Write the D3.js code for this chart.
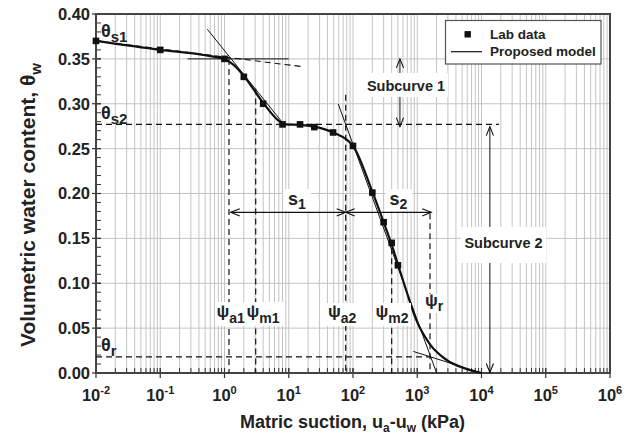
<!DOCTYPE html>
<html><head><meta charset="utf-8">
<script src="https://cdn.jsdelivr.net/npm/d3@7"></script>
<style>
body{margin:0;background:#fff}
text{font-family:"Liberation Sans",Arial,sans-serif;font-weight:bold;fill:#222}
</style>
</head><body>
<svg id="c" width="633" height="436"></svg>
<script>
// ---- data ----
const labSuction = [0.01, 0.1, 1, 2, 4, 8, 15, 25, 49, 100, 200, 300, 400, 500];
const labTheta   = [0.370, 0.360, 0.350, 0.330, 0.300, 0.277, 0.277, 0.274, 0.268, 0.253, 0.201, 0.168, 0.145, 0.120];

const modelSuction = [0.01, 0.1, 0.5, 1.0, 1.4, 2, 4, 7, 9, 15, 25, 49, 100, 200, 300, 400, 500, 670, 980, 1580, 2870, 5530, 10000];
const modelTheta   = [0.370, 0.360, 0.354, 0.3495, 0.343, 0.331, 0.301, 0.281, 0.277, 0.2765, 0.2745, 0.268, 0.253, 0.202, 0.168, 0.143, 0.121, 0.0925, 0.058, 0.032, 0.0145, 0.005, 0.0];

const yTickValues = [0, 0.05, 0.10, 0.15, 0.20, 0.25, 0.30, 0.35, 0.40];
const xTickExponents = [-2, -1, 0, 1, 2, 3, 4, 5, 6];

// characteristic values
const thetaS1 = 0.370, thetaS2 = 0.277, thetaR = 0.018;
const psiA1 = 1.175, psiM1 = 3.06, psiA2 = 77, psiM2 = 400, psiR = 1580;

// construction lines [suction, theta] pairs
const tangentFlat1 = [[0.01, 0.370], [17.5, 0.341]];      // dashed
const tangentH1    = [[0.267, 0.350], [10, 0.350]];        // thin
const tangentSteep1= [[0.54, 0.383], [8.2, 0.278]];        // thin
const tangentSteep2= [[59, 0.2997], [2000, 0.0]];          // thin
const tangentRes   = [[870, 0.024], [10000, 0.0]];         // thin

// ---- layout ----
const svg = d3.select("#c");
const x = d3.scaleLog().domain([1e-2, 1e6]).range([96, 610]);
const y = d3.scaleLinear().domain([0, 0.4]).range([373, 14]);
const X0 = x.range()[0], X1 = x.range()[1], Y0 = y.range()[0], Y1 = y.range()[1];

// grid
const grid = svg.append("g").attr("stroke", "#c4c4c4").attr("stroke-width", 1);
const xGridVals = [];
for (let e = -2; e < 6; e++) for (let k = 1; k <= 9; k++) xGridVals.push(k * Math.pow(10, e));
xGridVals.push(1e6);
grid.selectAll("line.v").data(xGridVals).join("line")
  .attr("x1", d => x(d)).attr("x2", d => x(d)).attr("y1", Y1).attr("y2", Y0);
grid.selectAll("line.h").data(yTickValues).join("line")
  .attr("x1", X0).attr("x2", X1).attr("y1", d => y(d)).attr("y2", d => y(d));

// axes ticks
const minorY = d3.range(0, 0.401, 0.01);
svg.append("g").attr("stroke", "#333").attr("stroke-width", 1)
  .selectAll("line").data(minorY).join("line")
  .attr("x1", X0).attr("x2", X0 + 5).attr("y1", d => y(d)).attr("y2", d => y(d));
svg.append("g").attr("stroke", "#333").attr("stroke-width", 1.2)
  .selectAll("line").data(yTickValues).join("line")
  .attr("x1", X0 - 4).attr("x2", X0 + 5).attr("y1", d => y(d)).attr("y2", d => y(d));
svg.append("g").attr("stroke", "#333").attr("stroke-width", 1)
  .selectAll("line").data(xGridVals).join("line")
  .attr("x1", d => x(d)).attr("x2", d => x(d)).attr("y1", Y0 - 5).attr("y2", Y0);
svg.append("g").attr("stroke", "#333").attr("stroke-width", 1.2)
  .selectAll("line").data(xTickExponents).join("line")
  .attr("x1", d => x(Math.pow(10, d))).attr("x2", d => x(Math.pow(10, d))).attr("y1", Y0 - 5).attr("y2", Y0 + 5);

// frame
svg.append("rect").attr("x", X0).attr("y", Y1).attr("width", X1 - X0).attr("height", Y0 - Y1)
  .attr("fill", "none").attr("stroke", "#444").attr("stroke-width", 2);

// tick labels
svg.append("g").selectAll("text").data(yTickValues).join("text")
  .attr("x", X0 - 6).attr("y", d => y(d)).attr("dy", "0.36em").attr("text-anchor", "end")
  .attr("font-size", 16.5).text(d => d.toFixed(2));
const xl = svg.append("g").selectAll("text").data(xTickExponents).join("text")
  .attr("x", d => x(Math.pow(10, d))).attr("y", 401).attr("text-anchor", "middle").attr("font-size", 16.5);
xl.append("tspan").text("10");
xl.append("tspan").attr("font-size", 11).attr("dy", -7.5).text(d => d);

// axis titles
const xt = svg.append("text").attr("x", 352.5).attr("y", 427.5).attr("text-anchor", "middle").attr("font-size", 18);
xt.append("tspan").text("Matric suction, u");
xt.append("tspan").attr("font-size", 12).attr("dy", 4).text("a");
xt.append("tspan").attr("dy", -4).text("-u");
xt.append("tspan").attr("font-size", 12).attr("dy", 4).text("w");
xt.append("tspan").attr("dy", -4).text(" (kPa)");

const yt = svg.append("text").attr("transform", "translate(35,205) rotate(-90)").attr("text-anchor", "middle").attr("font-size", 21);
yt.append("tspan").text("Volumetric water content, θ");
yt.append("tspan").attr("font-size", 15).attr("dy", 6).text("w");

// helpers
const lineGen = d3.line().x(d => x(d[0])).y(d => y(d[1]));
function seg(pts, opts) {
  svg.append("path").attr("d", lineGen(pts)).attr("fill", "none")
    .attr("stroke", opts.color || "#111").attr("stroke-width", opts.w || 1)
    .attr("stroke-dasharray", opts.dash || null);
}
function head(px, py, dir) {
  const L = 9, Hh = 3.6;
  let p;
  if (dir === "left")  p = [[px + L, py - Hh], [px, py], [px + L, py + Hh]];
  if (dir === "right") p = [[px - L, py - Hh], [px, py], [px - L, py + Hh]];
  if (dir === "up")    p = [[px - Hh, py + L], [px, py], [px + Hh, py + L]];
  if (dir === "down")  p = [[px - Hh, py - L], [px, py], [px + Hh, py - L]];
  svg.append("path").attr("d", d3.line()(p)).attr("fill", "none").attr("stroke", "#111").attr("stroke-width", 1.1);
}
function bg(x0, y0, w, h) {
  svg.append("rect").attr("x", x0).attr("y", y0).attr("width", w).attr("height", h).attr("fill", "#fff");
}
function subLabel(sym, sub, px, py, size, subSize, shift) {
  const t = svg.append("text").attr("x", px).attr("y", py).attr("font-size", size);
  t.append("tspan").text(sym);
  t.append("tspan").attr("font-size", subSize).attr("dy", shift).text(sub);
}

const dash = "6,4";
// dashed construction lines
seg(tangentFlat1, {dash, w: 1.2});
seg([[0.01, thetaS2], [18700, thetaS2]], {dash, w: 1.2});
seg([[0.01, thetaR], [psiR, thetaR]], {dash, w: 1.2});
seg([[psiA1, 0.350], [psiA1, 0]], {dash, w: 1.2});
seg([[psiM1, 0.317], [psiM1, 0]], {dash, w: 1.2});
seg([[psiA2, 0.310], [psiA2, 0]], {dash, w: 1.2});
seg([[psiM2, 0.139], [psiM2, 0]], {dash, w: 1.2});
seg([[psiR, 0.178], [psiR, 0]], {dash, w: 1.2});

// thin tangents
seg(tangentH1, {w: 1});
seg(tangentSteep1, {w: 1});
seg(tangentSteep2, {w: 1});
seg(tangentRes, {w: 1});

// s1, s2 arrows
const sY = 0.179;
seg([[1.25, sY], [psiA2, sY]], {w: 1.4});
seg([[psiA2, sY], [1650, sY]], {w: 1.4});
head(x(1.25), y(sY), "left");
head(x(psiA2), y(sY), "right");
head(x(psiA2), y(sY), "left");
head(x(1650), y(sY), "right");

// subcurve arrows
const sc1X = 538, sc2X = 13500;
seg([[sc1X, 0.350], [sc1X, 0.2745]], {w: 1});
head(x(sc1X), y(0.350), "up");
head(x(sc1X), y(0.2745), "down");
seg([[sc2X, 0.2745], [sc2X, 0.0]], {w: 1});
head(x(sc2X), y(0.2745), "up");
head(x(sc2X), y(0.0) - 0.5, "down");

// model curve
const modelPts = modelSuction.map((s, i) => [s, modelTheta[i]]);
svg.append("path").attr("d", d3.line().x(d => x(d[0])).y(d => y(d[1])).curve(d3.curveMonotoneX)(modelPts))
  .attr("fill", "none").attr("stroke", "#111").attr("stroke-width", 2.2);

// lab data
svg.append("g").selectAll("rect").data(labSuction.map((s, i) => [s, labTheta[i]])).join("rect")
  .attr("x", d => x(d[0]) - 3.3).attr("y", d => y(d[1]) - 3.3).attr("width", 6.6).attr("height", 6.6).attr("fill", "#111");

// labels
bg(364, 73, 84, 24);
svg.append("text").attr("x", 406).attr("y", 90.5).attr("text-anchor", "middle").attr("font-size", 14.5).text("Subcurve 1");
bg(461, 227, 85, 36);
svg.append("text").attr("x", 503.5).attr("y", 248).attr("text-anchor", "middle").attr("font-size", 14.5).text("Subcurve 2");

bg(215, 302, 68, 24);
subLabel("ψ", "a1", 216.5, 317, 17, 14, 6);
subLabel("ψ", "m1", 246.5, 317, 17, 14, 6);
bg(326, 303, 32, 23);
subLabel("ψ", "a2", 328, 317, 17, 14, 6);
bg(373, 303, 38, 23);
subLabel("ψ", "m2", 375.5, 317, 17, 14, 6);
bg(423, 294, 19, 19);
subLabel("ψ", "r", 425, 306, 17, 14, 5);

bg(283, 189, 28, 22);
subLabel("s", "1", 288, 205, 18, 14, 4);
bg(386, 189, 26, 22);
subLabel("s", "2", 389.5, 205, 18, 14, 4);

subLabel("θ", "s1", 101, 37, 18, 15, 5);
subLabel("θ", "s2", 101, 119, 18, 15, 5);
subLabel("θ", "r", 101, 351, 18, 15, 5);

// legend
const lg = svg.append("g");
lg.append("rect").attr("x", 445.5).attr("y", 20.5).attr("width", 155.5).attr("height", 43.5)
  .attr("fill", "#fff").attr("stroke", "#555").attr("stroke-width", 1.2);
lg.append("rect").attr("x", 467.7 - 3.2).attr("y", 34.3 - 3.2).attr("width", 6.4).attr("height", 6.4).attr("fill", "#111");
lg.append("line").attr("x1", 451).attr("x2", 482).attr("y1", 51.7).attr("y2", 51.7).attr("stroke", "#111").attr("stroke-width", 1.2);
lg.append("text").attr("x", 490).attr("y", 39).attr("font-size", 13.5).text("Lab data");
lg.append("text").attr("x", 490).attr("y", 56).attr("font-size", 13.5).text("Proposed model");
</script>
</body></html>
